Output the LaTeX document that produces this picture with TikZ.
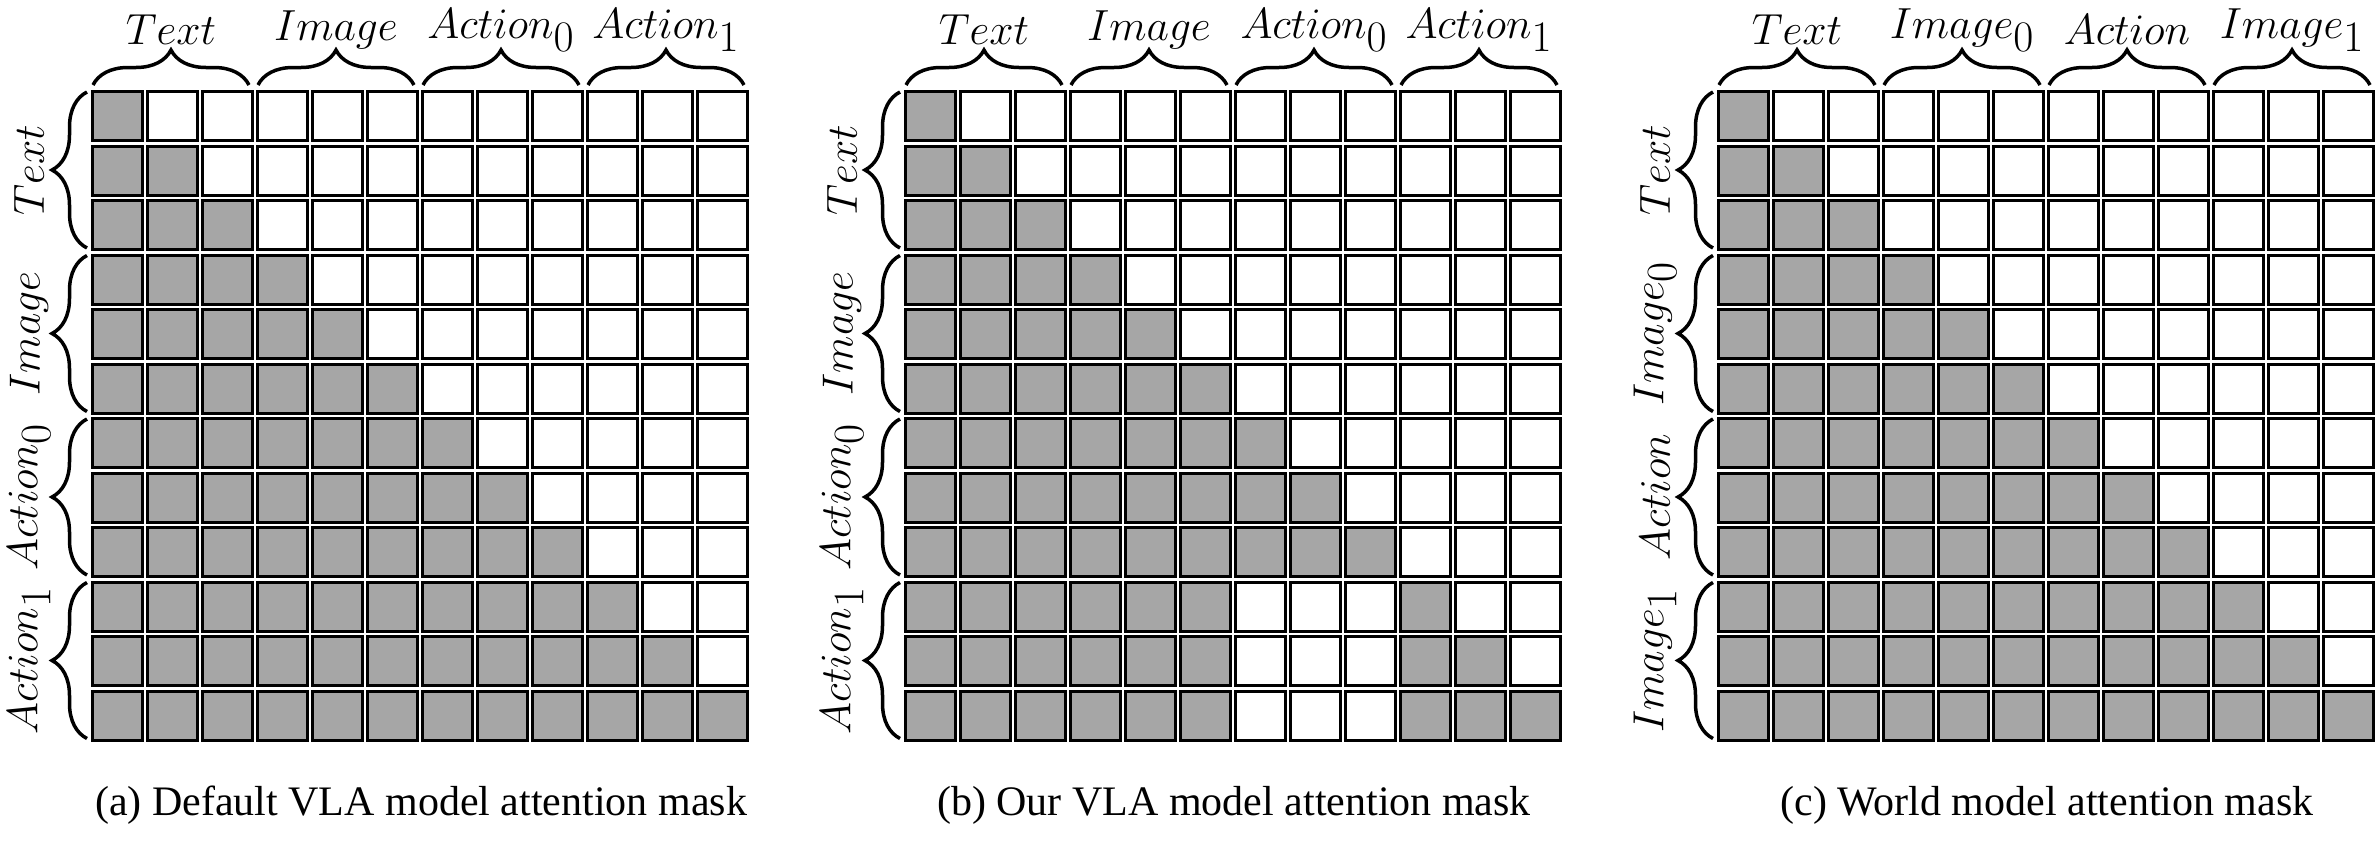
\documentclass[tikz,border=0pt]{standalone}
\usepackage{fontspec}
\setmainfont{Liberation Serif}
\usetikzlibrary{decorations.pathreplacing}
\definecolor{cellgray}{HTML}{A6A6A6}
\tikzset{
  cellbox/.style={draw=black,line width=3pt,minimum width=50pt,minimum height=49pt,inner sep=0pt,anchor=north west},
  bracepath/.style={decorate,decoration={brace,amplitude=35pt},line width=3.5pt},
  lbl/.style={font=\fontsize{38}{40}\selectfont,scale=1.75},
  captxt/.style={font=\fontsize{42}{46}\selectfont}
}
\newcommand{\mygrid}[7]{%
\foreach \r in {0,...,11}{
  \foreach \c in {0,...,11}{
    \pgfmathtruncatemacro{\isfill}{ (\c<=\r) ? 1 : 0 }
    \ifnum#7=1
      \pgfmathtruncatemacro{\isfill}{ (\r>8 && \c>5 && \c<9) ? 0 : \isfill }
    \fi
    \ifnum\isfill=1
      \node[cellbox,fill=cellgray] (#2-\r-\c) at ({#1+\c*55},{90+\r*54.5}) {};
    \else
      \node[cellbox,fill=white] (#2-\r-\c) at ({#1+\c*55},{90+\r*54.5}) {};
    \fi
  }
}
\foreach \k/\t in {0/#3,1/#4,2/#5,3/#6}{
  \pgfmathsetmacro{\xa}{#1+\k*165+2}
  \pgfmathsetmacro{\xb}{#1+\k*165+158}
  \draw[bracepath] (\xa,85) -- (\xb,85);
  \node[lbl] (#2-top-\k) at ({(\xa+\xb)/2},30) {$\t$};
  \pgfmathsetmacro{\ya}{90+\k*163.5+2}
  \pgfmathsetmacro{\yb}{90+\k*163.5+158}
  \draw[bracepath] ({#1-4},\yb) -- ({#1-4},\ya);
  \node[lbl,rotate=90] (#2-left-\k) at ({#1-62},{(\ya+\yb)/2}) {$\t$};
}
}
\begin{document}
\begin{tikzpicture}[x=1pt,y=-1pt]
\useasboundingbox (0,0) rectangle (2376,854);
\mygrid{91}{a}{Text}{Image}{Action_0}{Action_1}{0}
\mygrid{904}{b}{Text}{Image}{Action_0}{Action_1}{1}
\mygrid{1717}{c}{Text}{Image_0}{Action}{Image_1}{0}
\node[captxt] (capa) at (421,805) {(a) Default VLA model attention mask};
\node[captxt] (capb) at (1234,805) {(b) Our VLA model attention mask};
\node[captxt] (capc) at (2047,805) {(c) World model attention mask};
\end{tikzpicture}
\end{document}
